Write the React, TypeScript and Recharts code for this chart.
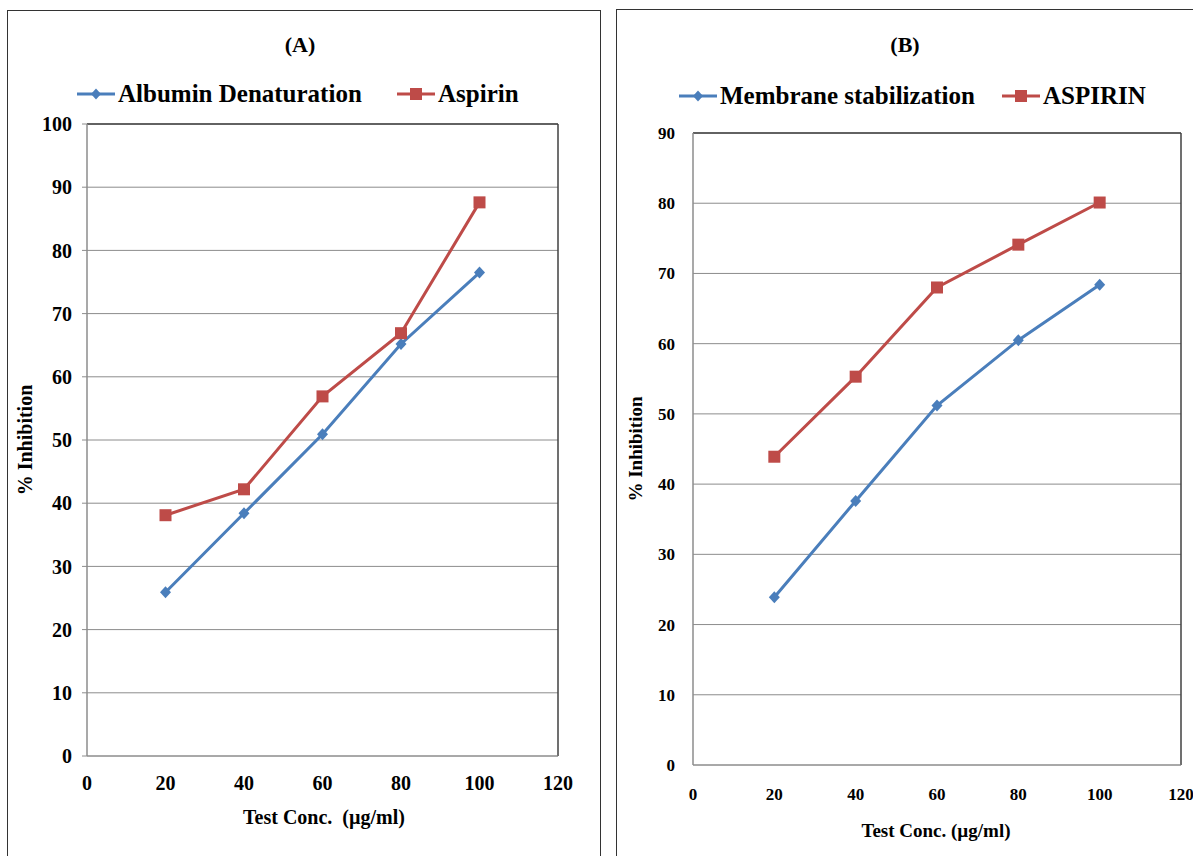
import React from 'react';
import { LineChart, Line, XAxis, YAxis, CartesianGrid, ReferenceLine } from 'recharts';

// values
const concentrations = [20, 40, 60, 80, 100];
const albuminDenaturation = [25.9, 38.4, 50.9, 65.2, 76.5];
const aspirinA = [38.1, 42.2, 56.9, 66.9, 87.6];
const membraneStabilization = [23.9, 37.6, 51.2, 60.5, 68.4];
const aspirinB = [43.9, 55.3, 68.0, 74.1, 80.1];

const xTicks = [0, 20, 40, 60, 80, 100, 120];
const yTicksA = [0, 10, 20, 30, 40, 50, 60, 70, 80, 90, 100];
const yTicksB = [0, 10, 20, 30, 40, 50, 60, 70, 80, 90];

const BLUE = '#4a7ebb';
const RED = '#be4b48';
const GRID = '#8c8c8c';
const BORDER = '#404040';
const FONT = '"Liberation Serif", "Times New Roman", serif';

const dataA = concentrations.map((c, i) => ({ conc: c, blue: albuminDenaturation[i], red: aspirinA[i] }));
const dataB = concentrations.map((c, i) => ({ conc: c, blue: membraneStabilization[i], red: aspirinB[i] }));

const renderDiamond = (props: any) => {
    const { cx, cy, index } = props;
    return (
        <path
            key={`diamond-${index}`}
            d={`M${cx},${cy - 6}L${cx + 5.5},${cy}L${cx},${cy + 6}L${cx - 5.5},${cy}Z`}
            fill={BLUE}
        />
    );
};

const renderSquare = (props: any) => {
    const { cx, cy, index } = props;
    return <rect key={`square-${index}`} x={cx - 6} y={cy - 6} width={12} height={12} fill={RED} />;
};

function LegendIcon({ color, marker }: { color: string; marker: 'diamond' | 'square' }) {
    return (
        <svg width={38} height={14} style={{ display: 'block' }}>
            <line x1={0} y1={7} x2={38} y2={7} stroke={color} strokeWidth={3} />
            {marker === 'diamond'
                ? <path d="M19,1.5L24,7L19,12.5L14,7Z" fill={color} />
                : <rect x={13} y={1} width={12} height={12} fill={color} />}
        </svg>
    );
}

function LegendItem({ left, top, color, marker, label }: any) {
    return (
        <div style={{ position: 'absolute', left, top, display: 'flex', alignItems: 'center', gap: 3 }}>
            <LegendIcon color={color} marker={marker} />
            <span style={{ fontFamily: FONT, fontWeight: 'bold', fontSize: 25, lineHeight: '28px', whiteSpace: 'pre' }}>{label}</span>
        </div>
    );
}

function CenteredText({ x, y, size, rotate, children }: any) {
    return (
        <div
            style={{
                position: 'absolute',
                left: x,
                top: y,
                transform: `translate(-50%, -50%)${rotate ? ' rotate(-90deg)' : ''}`,
                fontFamily: FONT,
                fontWeight: 'bold',
                fontSize: size,
                whiteSpace: 'pre',
                lineHeight: 1,
            }}
        >
            {children}
        </div>
    );
}

function Panel({ data, width, yTicks, yMax, margin, yWidth, yTickSize, yTickMargin, xTickMargin, fontSize }: any) {
    const tickStyle = { fontFamily: FONT, fontWeight: 'bold', fontSize, fill: '#000' };
    return (
        <LineChart width={width} height={856} data={data} margin={margin}>
            <CartesianGrid vertical={false} stroke={GRID} strokeWidth={1} />
            <XAxis
                dataKey="conc"
                type="number"
                domain={[0, 120]}
                ticks={xTicks}
                interval={0}
                height={40}
                tickLine={false}
                tickMargin={xTickMargin}
                axisLine={{ stroke: GRID, strokeWidth: 1 }}
                tick={tickStyle}
            />
            <YAxis
                type="number"
                domain={[0, yMax]}
                ticks={yTicks}
                interval={0}
                width={yWidth}
                tickSize={yTickSize}
                tickLine={yTickSize > 0 ? { stroke: GRID } : false}
                tickMargin={yTickMargin}
                axisLine={{ stroke: GRID, strokeWidth: 1.5 }}
                tick={tickStyle}
            />
            <ReferenceLine y={yMax} stroke={BORDER} strokeWidth={1.5} />
            <ReferenceLine x={120} stroke={BORDER} strokeWidth={1.5} />
            <Line dataKey="blue" stroke={BLUE} strokeWidth={3} dot={renderDiamond} activeDot={false} isAnimationActive={false} />
            <Line dataKey="red" stroke={RED} strokeWidth={3} dot={renderSquare} activeDot={false} isAnimationActive={false} />
        </LineChart>
    );
}

export default function App() {
    return (
        <div style={{ position: 'absolute', left: 0, top: 0, width: 1193, height: 856, overflow: 'hidden', background: '#fff' }}>
            {/* panel frames */}
            <div style={{ position: 'absolute', left: 7, top: 10, width: 592, height: 900, border: '1.5px solid #333' }} />
            <div style={{ position: 'absolute', left: 616, top: 9, width: 700, height: 900, border: '1.5px solid #333' }} />

            {/* panel A */}
            <div style={{ position: 'absolute', left: 0, top: 0 }}>
                <Panel
                    data={dataA}
                    width={600}
                    yTicks={yTicksA}
                    yMax={100}
                    margin={{ top: 124, right: 42, bottom: 60, left: 0 }}
                    yWidth={87}
                    yTickSize={5}
                    yTickMargin={10}
                    xTickMargin={14}
                    fontSize={20}
                />
            </div>
            <CenteredText x={300} y={45} size={22}>(A)</CenteredText>
            <LegendItem left={77} top={80} color={BLUE} marker="diamond" label="Albumin Denaturation" />
            <LegendItem left={397} top={80} color={RED} marker="square" label="Aspirin" />
            <CenteredText x={25} y={440} size={20} rotate>% Inhibition</CenteredText>
            <CenteredText x={324} y={817} size={20}>Test Conc.  (µg/ml)</CenteredText>

            {/* panel B */}
            <div style={{ position: 'absolute', left: 600, top: 0 }}>
                <Panel
                    data={dataB}
                    width={593}
                    yTicks={yTicksB}
                    yMax={90}
                    margin={{ top: 133, right: 12, bottom: 51, left: 0 }}
                    yWidth={93}
                    yTickSize={0}
                    yTickMargin={18}
                    xTickMargin={17}
                    fontSize={17}
                />
            </div>
            <CenteredText x={905} y={45} size={22}>(B)</CenteredText>
            <LegendItem left={679} top={82} color={BLUE} marker="diamond" label="Membrane stabilization" />
            <LegendItem left={1002} top={82} color={RED} marker="square" label="ASPIRIN" />
            <CenteredText x={635} y={449} size={19} rotate>% Inhibition</CenteredText>
            <CenteredText x={936} y={830} size={19}>Test Conc. (µg/ml)</CenteredText>
        </div>
    );
}
